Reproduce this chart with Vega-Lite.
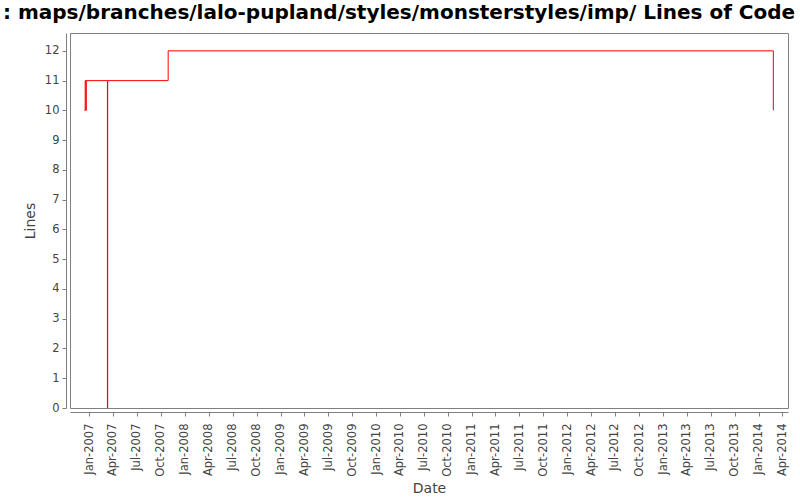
{
  "$schema": "https://vega.github.io/schema/vega-lite/v6.json",
  "autosize": "none",
  "width": 718,
  "height": 375,
  "padding": {"left": 70, "top": 33, "right": 12, "bottom": 92},
  "background": "white",
  "title": {
    "text": ": maps/branches/lalo-pupland/styles/monsterstyles/imp/ Lines of Code",
    "font": "DejaVu Sans",
    "fontWeight": "bold",
    "fontSize": 20,
    "color": "#000000",
    "anchor": "start",
    "frame": "group",
    "dx": -67,
    "dy": 18,
    "baseline": "bottom",
    "offset": 8
  },
  "config": {
    "view": {"stroke": "#808080", "strokeWidth": 1},
    "axis": {
      "labelFont": "DejaVu Sans",
      "labelFontSize": 11.5,
      "labelColor": "#444444",
      "titleFont": "DejaVu Sans",
      "titleFontSize": 14,
      "titleFontWeight": "normal",
      "titleColor": "#444444",
      "domainColor": "#808080",
      "tickColor": "#808080",
      "tickSize": 4,
      "grid": false,
      "offset": 4
    }
  },
  "data": {
    "values": [
      {"date": "2006-12-13", "lines": 10},
      {"date": "2006-12-16", "lines": 11},
      {"date": "2006-12-19", "lines": 10},
      {"date": "2006-12-20", "lines": 11},
      {"date": "2007-03-11", "lines": 0},
      {"date": "2007-03-12", "lines": 11},
      {"date": "2007-10-29", "lines": 12},
      {"date": "2014-02-26", "lines": 10}
    ]
  },
  "mark": {"type": "line", "color": "#ff0000", "strokeWidth": 1, "interpolate": "step-after"},
  "encoding": {
    "x": {
      "field": "date",
      "type": "temporal",
      "scale": {
        "type": "utc",
        "domain": [
          {"year": 2006, "month": 10, "date": 19, "utc": true},
          {"year": 2014, "month": 4, "date": 23, "utc": true}
        ]
      },
      "axis": {
        "title": "Date",
        "format": "%b-%Y",
        "formatType": "time",
        "labelAngle": -90,
        "labelPadding": 7,
        "tickCount": {"interval": "month", "step": 3},
        "titlePadding": 5
      }
    },
    "y": {
      "field": "lines",
      "type": "quantitative",
      "scale": {"domain": [0, 12.6], "nice": false, "zero": true},
      "axis": {
        "title": "Lines",
        "values": [0, 1, 2, 3, 4, 5, 6, 7, 8, 9, 10, 11, 12],
        "labelPadding": 3,
        "titlePadding": 7
      }
    }
  }
}
